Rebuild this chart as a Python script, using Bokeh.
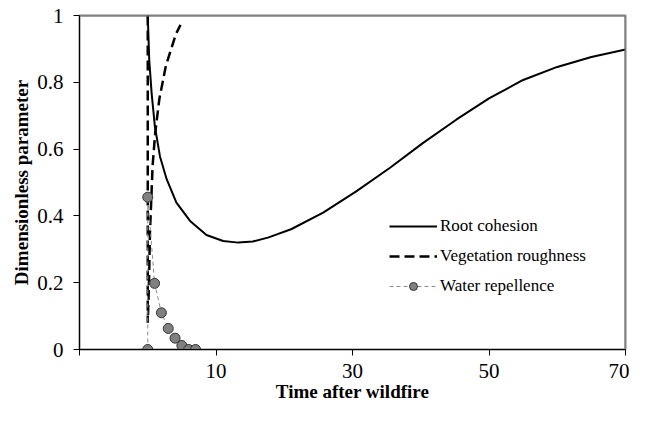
from bokeh.plotting import figure
from bokeh.models import Range1d, FixedTicker, Legend, LegendItem, Span
from bokeh.embed import file_html
from bokeh.resources import INLINE

# ---- data ----
t_root = [0, 0.22, 0.57, 1.05, 1.79, 2.77, 4.2, 6.2, 8.6, 11.05, 13.25, 15.4, 17.6,
          21, 25.7, 30.6, 35.5, 40.3, 45.2, 50, 55, 60, 65, 70]
y_root = [1.0, 0.866, 0.767, 0.667, 0.578, 0.51, 0.44, 0.385, 0.343, 0.325, 0.32,
          0.3235, 0.335, 0.36, 0.41, 0.474, 0.544, 0.618, 0.688, 0.752, 0.807, 0.846,
          0.876, 0.898]

t_veg = [0, 0, 0.18, 0.32, 0.52, 0.71, 1.1, 1.7, 2.66, 4.13, 4.8]
y_veg = [1.0, 0.08, 0.19, 0.35, 0.45, 0.55, 0.65, 0.75, 0.85, 0.945, 0.972]

t_water = [0, 0, 1, 2, 3, 4, 5, 6, 7]
y_water = [0, 0.456, 0.198, 0.11, 0.063, 0.034, 0.012, 0, 0]

x_ticks = [-10, 10, 30, 50, 70]
x_tick_labels = ["", "10", "30", "50", "70"]
y_ticks = [0, 0.2, 0.4, 0.6, 0.8, 1]
y_tick_labels = ["0", "0.2", "0.4", "0.6", "0.8", "1"]

FONT = "Liberation Serif"

xr = Range1d(-10, 70)
yr = Range1d(0, 1)
p = figure(frame_width=546, frame_height=334, output_backend="svg", toolbar_location=None,
           x_range=xr, y_range=yr,
           min_border_left=79, min_border_right=4, min_border_top=15, min_border_bottom=59)

p.xgrid.visible = False
p.ygrid.visible = False
p.outline_line_color = "#808080"
p.outline_line_width = 2
p.background_fill_color = "white"
p.border_fill_color = "white"

# gray frame border on top and right (as in the reference)
p.add_layout(Span(location=yr.end, dimension="width", line_color="#808080", line_width=2))
p.add_layout(Span(location=xr.end, dimension="height", line_color="#808080", line_width=2))

r_root = p.line(t_root, y_root, line_color="black", line_width=2)
r_veg = p.line(t_veg, y_veg, line_color="black", line_width=2.5, line_dash="10 5")
r_wl = p.line(t_water, y_water, line_color="#8c8c8c", line_width=1, line_dash="4 3")
r_ws = p.scatter(t_water, y_water, size=10, fill_color="#808080", line_color="#333333",
                 line_width=1)

for ax in (p.xaxis[0], p.yaxis[0]):
    ax.axis_line_color = "black"
    ax.axis_line_width = 1
    ax.major_tick_line_color = "black"
    ax.major_tick_out = 6
    ax.major_tick_in = 0
    ax.minor_tick_line_color = None
    ax.major_label_text_font = FONT
    ax.major_label_text_font_size = "21px"
    ax.major_label_text_color = "black"
    ax.axis_label_text_font = FONT
    ax.axis_label_text_font_style = "bold"
    ax.axis_label_text_color = "black"

p.xaxis.ticker = FixedTicker(ticks=x_ticks)
p.xaxis.major_label_overrides = dict(zip(x_ticks, x_tick_labels))
p.yaxis.ticker = FixedTicker(ticks=y_ticks)
p.yaxis.major_label_overrides = dict(zip(y_ticks, y_tick_labels))

p.xaxis.axis_label = "Time after wildfire"
p.yaxis.axis_label = "Dimensionless parameter"
p.xaxis.axis_label_text_font_size = "19px"
p.yaxis.axis_label_text_font_size = "19px"
p.xaxis.major_label_standoff = 8
p.xaxis.axis_label_standoff = 0
p.yaxis.major_label_standoff = 10
p.yaxis.axis_label_standoff = 2

legend = Legend(items=[
    LegendItem(label="Root cohesion", renderers=[r_root]),
    LegendItem(label="Vegetation roughness", renderers=[r_veg]),
    LegendItem(label="Water repellence", renderers=[r_wl, r_ws]),
], location=(310, 53))
legend.background_fill_alpha = 0
legend.border_line_alpha = 0
legend.padding = 0
legend.margin = 0
legend.spacing = 10
legend.glyph_width = 48
legend.glyph_height = 20
legend.label_height = 20
legend.label_standoff = 3
legend.label_text_font = FONT
legend.label_text_font_size = "17px"
legend.label_text_color = "black"
p.add_layout(legend)

open("out.html", "w").write(file_html(p, INLINE))
